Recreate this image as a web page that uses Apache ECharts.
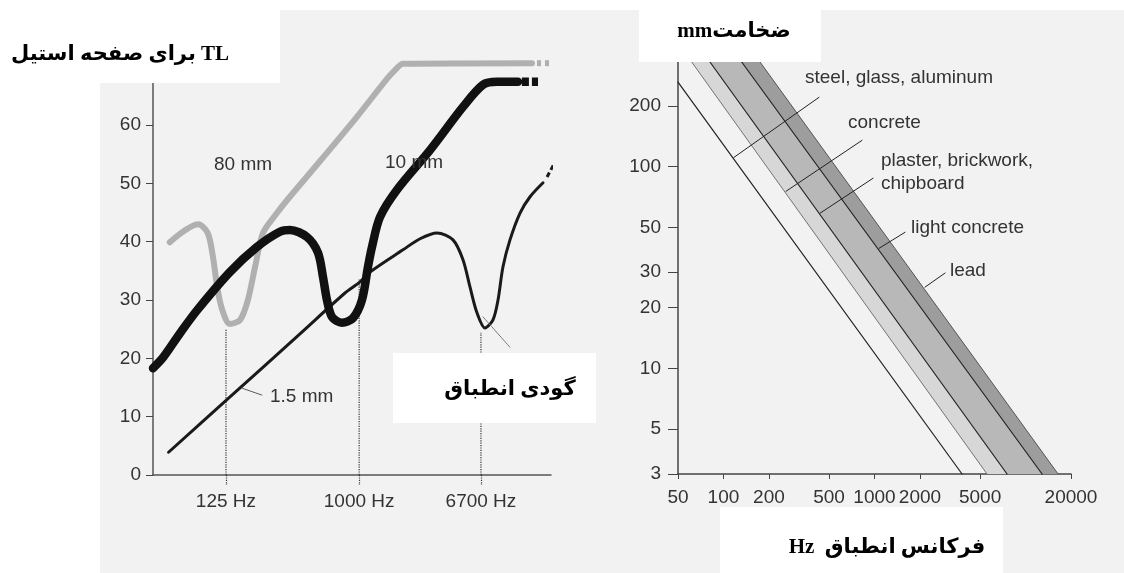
<!DOCTYPE html>
<html>
<head>
<meta charset="utf-8">
<script src="https://cdn.jsdelivr.net/npm/echarts@6/dist/echarts.min.js"></script>
<style>
html, body { margin: 0; padding: 0; background: #fff; }
#chart { width: 1124px; height: 573px; }
</style>
</head>
<body>
<div id="chart"></div>
<script>
// ---- left panel: TL (dB) of steel plates vs frequency (Hz) ----
const tlTicks = [0, 10, 20, 30, 40, 50, 60]
const hzTicks = [125, 1000, 6700]
const plate80 = [[52, 39.9], [81, 43.0], [94, 41.5], [102, 37.4], [109, 32.2], [118, 28.3], [133, 25.9], [156, 26.6], [176, 30.0], [197, 35.7], [223, 41.5], [277, 44.9], [324, 47.1], [551, 54.0], [966, 61.4], [1520, 67.7], [1750, 69.4], [1983, 70.5], [14860, 70.6]]
const plate80Tail = [[16070, 70.6], [20300, 70.6]]
const plate10 = [[40, 18.3], [47, 20.2], [61, 24.3], [80, 28.3], [133, 34.8], [203, 39.1], [290, 41.7], [340, 42.0], [443, 40.8], [526, 38.1], [569, 33.9], [605, 30.0], [654, 27.1], [765, 26.1], [908, 26.9], [1045, 30.0], [1148, 35.7], [1222, 39.1], [1384, 44.2], [1807, 48.9], [3024, 55.7], [5060, 63.1], [6920, 66.9], [8610, 67.4], [11940, 67.4]]
const plate10Tail = [[12700, 67.4], [16330, 67.4]]
const plate15 = [[51, 3.9], [128, 13.0], [397, 24.2], [802, 31.2], [1014, 33.1], [1185, 34.8], [1983, 38.6], [2588, 40.5], [3373, 41.5], [4330, 40.3], [5060, 36.9], [5650, 32.2], [6296, 27.8], [7130, 25.2], [8084, 26.6], [8744, 30.0], [9450, 35.7], [10540, 40.3], [12330, 44.9], [14420, 47.7], [17660, 50.1]]
const plate15Tail = [[18800, 51.1], [23000, 55.2]]
const dipTops = [[125, 25.0], [1000, 33.5], [6700, 24.4]]
const leader15 = [[160, 14.9], [219, 13.7]]
const leaderDip = [[6920, 27.1], [10540, 21.9]]

// ---- right panel: thickness (mm) vs coincidence frequency (Hz) ----
const mmTicks = [3, 5, 10, 20, 30, 50, 100, 200]
const fcTicks = [50, 100, 200, 500, 1000, 2000, 5000, 20000]
const steelLine = [[50, 262], [3800, 3]]
const edgeConcrete = [[61.6, 330], [5560, 3]]
const edgePlaster = [[81.4, 330], [7545, 3]]
const edgeLight = [[132, 330], [12870, 3]]
const edgeLead = [[174.6, 330], [16430, 3]]
const leaders = [
  [[429, 220.5], [117, 111]],
  [[827, 135], [259.5, 75.5]],
  [[978, 87.6], [436, 58.8]],
  [[1594, 47.3], [1072, 39.4]],
  [[2931, 29.7], [2161, 25.3]]
]

const sans = "'Liberation Sans', Arial, sans-serif"
const persian = "'Liberation Serif', 'DejaVu Sans', serif"
const txt = '#333'

function bandItem(a, b) {
  return [a[0][0], a[0][1], a[1][0], a[1][1], b[1][0], b[1][1], b[0][0], b[0][1]]
}
const bands = [
  { value: bandItem(edgeConcrete, edgePlaster), color: '#d7d7d7' },
  { value: bandItem(edgePlaster, edgeLight), color: '#b8b8b8' },
  { value: bandItem(edgeLight, edgeLead), color: '#9d9d9d' }
]

function curve(data, color, width, z, dash, xi) {
  return {
    type: 'line', xAxisIndex: xi || 0, yAxisIndex: xi || 0,
    data: data, symbol: 'none', smooth: (dash || xi) ? false : 0.3, clip: false, z: z, silent: true,
    lineStyle: { color: color, width: width, type: dash || 'solid', cap: dash ? 'butt' : 'round', join: 'round' }
  }
}

const series = [
  curve(plate80, '#b0b0b0', 6, 3),
  curve(plate80Tail, '#b0b0b0', 6, 3, [4, 4]),
  curve(plate15, '#1a1a1a', 3, 4),
  curve(plate15Tail, '#1a1a1a', 3, 4, [5, 3]),
  curve(plate10, '#111', 8.5, 5),
  curve(plate10Tail, '#111', 8.5, 5, [7, 3]),
  curve(leader15, '#555', 1, 4),
  curve(leaderDip, '#777', 1, 4)
]
dipTops.forEach(function (d) {
  series.push(curve([[d[0], 0], d], '#333', 1.2, 2, 'dotted'))
})

series.push({
  type: 'custom', xAxisIndex: 1, yAxisIndex: 1, silent: true, z: 1,
  data: bands,
  renderItem: function (params, api) {
    const pts = []
    for (let i = 0; i < 8; i += 2) pts.push(api.coord([api.value(i), api.value(i + 1)]))
    return { type: 'polygon', shape: { points: pts }, style: { fill: bands[params.dataIndex].color } }
  }
})
series.push(curve(steelLine, '#222', 1.2, 3, null, 1))
series.push(curve(edgeConcrete, '#666', 0.9, 3, null, 1))
series.push(curve(edgePlaster, '#222', 1.2, 3, null, 1))
series.push(curve(edgeLight, '#222', 1.2, 3, null, 1))
series.push(curve(edgeLead, '#555', 1, 3, null, 1))
leaders.forEach(function (l) {
  series.push(curve(l, '#222', 1, 4, null, 1))
})

function note(x, y, text) {
  return { type: 'text', x: x, y: y, z: 101, silent: true,
    style: { text: text, fill: txt, font: '19px ' + sans, textAlign: 'left', textVerticalAlign: 'middle' } }
}
function persianNote(x, y, text) {
  return { type: 'text', x: x, y: y, z: 101, silent: true,
    style: { text: text, fill: '#000', font: 'bold 21px ' + persian, textAlign: 'center', textVerticalAlign: 'middle' } }
}
function box(x, y, w, h) {
  return { type: 'rect', z: 100, silent: true, shape: { x: x, y: y, width: w, height: h }, style: { fill: '#fff' } }
}

const chart = echarts.init(document.getElementById('chart'))
chart.setOption({
  animation: false,
  backgroundColor: '#fff',
  grid: [
    { left: 153, top: 83, width: 398, height: 392 },
    { left: 678, top: 62, width: 393, height: 412 }
  ],
  xAxis: [
    {
      gridIndex: 0, type: 'log', logBase: 10, min: 40, max: 20000,
      axisLine: { lineStyle: { color: '#555', width: 1.5 } },
      axisTick: { customValues: hzTicks, length: 10, lineStyle: { color: '#333', type: 'dotted', width: 1.2 } },
      axisLabel: { customValues: hzTicks, margin: 17, color: txt, fontSize: 19, fontFamily: sans,
        formatter: function (v) { return Math.round(v) + ' Hz' } },
      splitLine: { show: false }, minorTick: { show: false }
    },
    {
      gridIndex: 1, type: 'log', logBase: 10, min: 50, max: 20000,
      axisLine: { lineStyle: { color: '#444', width: 1.5 } },
      axisTick: { customValues: fcTicks, length: 5, lineStyle: { color: '#444' } },
      axisLabel: { customValues: fcTicks, margin: 14, color: txt, fontSize: 19, fontFamily: sans,
        formatter: function (v) { return String(Math.round(v)) } },
      splitLine: { show: false }, minorTick: { show: false }
    }
  ],
  yAxis: [
    {
      gridIndex: 0, type: 'value', min: 0, max: 67.2,
      axisLine: { show: true, lineStyle: { color: '#555', width: 1.5 } },
      axisTick: { show: true, customValues: tlTicks, length: 7, lineStyle: { color: '#444' } },
      axisLabel: { customValues: tlTicks, margin: 12, color: txt, fontSize: 19, fontFamily: sans },
      splitLine: { show: false }
    },
    {
      gridIndex: 1, type: 'log', logBase: 10, min: 3, max: 330,
      axisLine: { show: true, lineStyle: { color: '#444', width: 1.5 } },
      axisTick: { show: true, customValues: mmTicks, length: 10, lineStyle: { color: '#444' } },
      axisLabel: { customValues: mmTicks, margin: 17, color: txt, fontSize: 19, fontFamily: sans,
        formatter: function (v) { return String(Math.round(v)) } },
      splitLine: { show: false }, minorTick: { show: false }
    }
  ],
  graphic: [
    { type: 'rect', z: -10, silent: true, shape: { x: 100, y: 10, width: 1024, height: 563 }, style: { fill: '#f2f2f2' } },
    box(100, 10, 180, 73),
    box(639, 8, 182, 54),
    box(393, 353, 203, 70),
    box(720, 507, 283, 66),
    persianNote(120, 55, 'برای صفحه استیل TL'),
    persianNote(734, 32, 'mmضخامت'),
    persianNote(510, 390, 'گودی انطباق'),
    persianNote(887, 548, 'Hz  فرکانس انطباق'),
    note(214, 165, '80 mm'),
    note(385, 163, '10 mm'),
    note(270, 397, '1.5 mm'),
    note(805, 78, 'steel, glass, aluminum'),
    note(848, 123, 'concrete'),
    note(881, 161, 'plaster, brickwork,'),
    note(881, 184, 'chipboard'),
    note(911, 228, 'light concrete'),
    note(950, 271, 'lead')
  ],
  series: series
})
</script>
</body>
</html>
